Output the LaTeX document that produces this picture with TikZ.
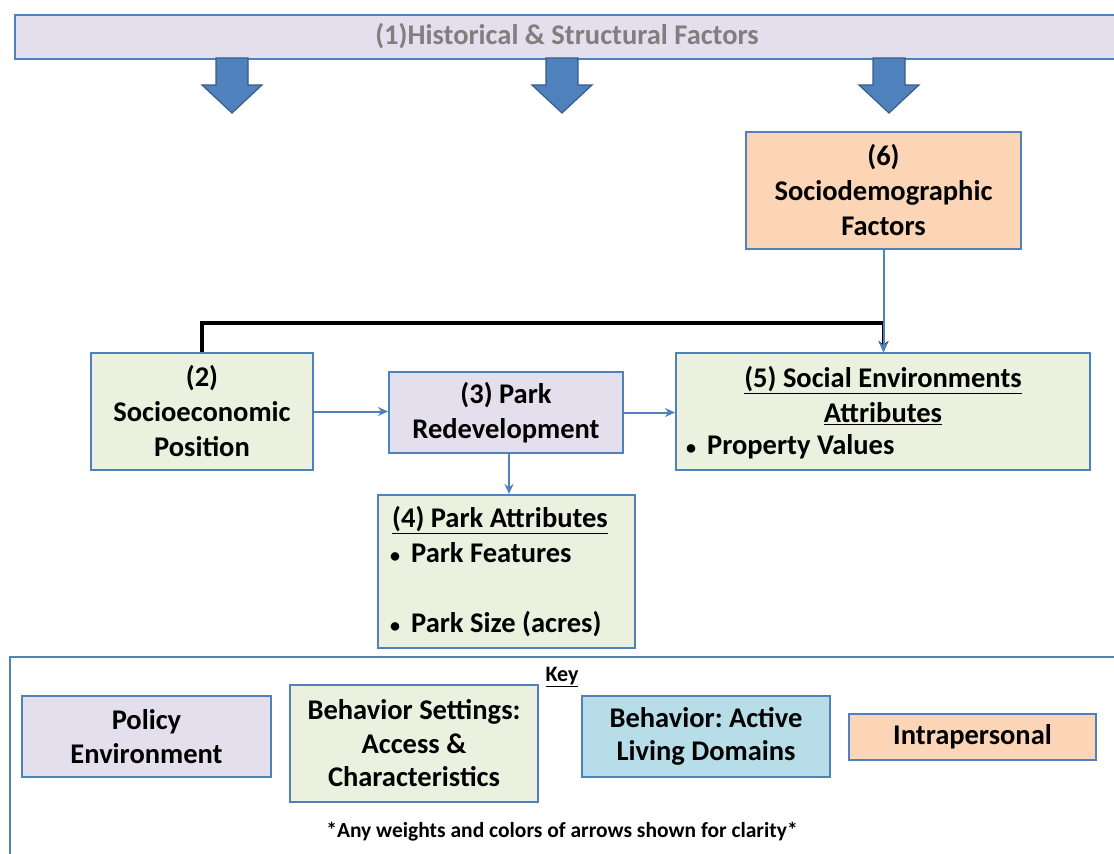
\documentclass[tikz,border=0pt]{standalone}
\usepackage{fontspec}
\setmainfont{Carlito}
\usetikzlibrary{arrows.meta}
\definecolor{bord}{HTML}{4F81BD}
\definecolor{bdark}{HTML}{385D8A}
\definecolor{lav}{HTML}{E4DFEC}
\definecolor{grn}{HTML}{EBF1DE}
\definecolor{peach}{HTML}{FBD5B5}
\definecolor{lblue}{HTML}{B7DEE8}
\definecolor{gtxt}{HTML}{7F7F7F}
\frenchspacing
\begin{document}
\begin{tikzpicture}[x=1pt,y=-1pt,
  font=\bfseries\fontsize{28.5}{35}\selectfont,
  box/.style={draw=bord, line width=2pt, align=center, inner sep=0pt},
  keyfont/.style={font=\bfseries\fontsize{28.5}{33.5}\selectfont},
  smallfont/.style={font=\bfseries\fontsize{21.5}{24}\selectfont},
  thin/.style={draw=bord, line width=2pt, -{Stealth[length=10pt,width=9pt]}},
  blockarrow/.style={fill=bord, draw=bdark, line width=1.2pt, line join=miter}]
\useasboundingbox (0,0) rectangle (1114,854);
\fill[white] (0,0) rectangle (1114,854);

% top banner
\node[box, fill=lav, minimum width=1104pt, minimum height=44pt, anchor=north west] (hist) at (14,14) {};
\node[text=gtxt] (histt) at (567,36) {(1)Historical \& Structural Factors};

% block arrows
\foreach \cx/\nm in {232/a1, 562/a2, 889/a3}{
  \draw[blockarrow] (\cx-16,58) -- (\cx+16,58) -- (\cx+16,85) -- (\cx+30,85) -- (\cx,113) -- (\cx-30,85) -- (\cx-16,85) -- cycle;
}

% boxes
\node[box, fill=peach, minimum width=275pt, minimum height=117pt] (b6) at (883.5,190.5) {(6)\\Sociodemographic\\Factors};
\node[box, fill=grn, minimum width=222pt, minimum height=117pt] (b2) at (202,411.5) {(2)\\Socioeconomic\\Position};
\node[box, fill=lav, minimum width=234pt, minimum height=81pt] (b3) at (506,412.5) {(3) Park\\Redevelopment};
\node[box, fill=grn, minimum width=414pt, minimum height=117pt] (b5) at (883,411.5) {};
\node (b5t) at (883,396) [align=center] {\underline{(5) Social Environments}\\\underline{Attributes}};
\node[anchor=west, inner sep=0pt] (b5b) at (686,447) {{\fontsize{20}{20}\selectfont\textbullet}\hspace{11pt}Property Values};
\node[box, fill=grn, minimum width=257pt, minimum height=153pt] (b4) at (506.5,571.5) {};
\node (b4t) at (500,520) {\underline{(4) Park Attributes}};
\node[anchor=west, inner sep=0pt] (b4b1) at (390,553) {{\fontsize{20}{20}\selectfont\textbullet}\hspace{11pt}Park Features};
\node[anchor=west, inner sep=0pt] (b4b2) at (390,624) {{\fontsize{20}{20}\selectfont\textbullet}\hspace{11pt}Park Size (acres)};

% connectors
\draw[thin] (b2.east) -- (b3.west |- b2.east);
\draw[thin] (b3.east) -- (b5.west |- b3.east);
\draw[thin] (b3.south -| 509,0) -- (b4.north -| 509,0);
\draw[black, line width=3.5pt, -{Stealth[length=11pt,width=10pt]}] (b2.north) -- ++(0,-29) -| (b6.south |- b5.north);
\draw[thin] (b6.south) -- (b6.south |- b5.north);

% key
\draw[bord, line width=2pt] (1130,657) -- (10,657) -- (10,870);
\node[font=\bfseries\fontsize{22}{24}\selectfont] (key) at (562,677) {\underline{Key}};
\node[box, keyfont, fill=lav, minimum width=249pt, minimum height=81pt] (k1) at (146.5,736.5) {Policy\\Environment};
\node[box, keyfont, fill=grn, minimum width=248pt, minimum height=117pt] (k2) at (414,743.5) {Behavior Settings:\\Access \&\\Characteristics};
\node[box, keyfont, fill=lblue, minimum width=248pt, minimum height=81pt] (k3) at (706,736.5) {Behavior: Active\\Living Domains};
\node[box, keyfont, fill=peach, minimum width=247pt, minimum height=46pt] (k4) at (972.5,737) {Intrapersonal};
\node[smallfont] (note) at (562,832) {*Any weights and colors of arrows shown for clarity*};
\end{tikzpicture}
\end{document}
